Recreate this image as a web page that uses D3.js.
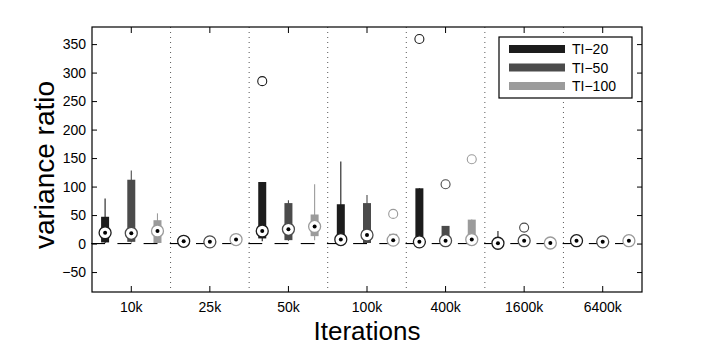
<!DOCTYPE html>
<html>
<head>
<meta charset="utf-8">
<script src="https://cdn.jsdelivr.net/npm/d3@7"></script>
<style>
body { margin: 0; background: #fff; }
svg { display: block; font-family: "Liberation Sans", Arial, sans-serif; }
</style>
</head>
<body>
<svg width="709" height="355"></svg>
<script>
// groups on the x axis
var iterations = ["10k", "25k", "50k", "100k", "400k", "1600k", "6400k"];
var seriesNames = ["TI\u221220", "TI\u221250", "TI\u2212100"];
var seriesColors = ["#1c1c1c", "#4b4b4b", "#9b9b9b"];
var yTicks = [-50, 0, 50, 100, 150, 200, 250, 300, 350];

// box stats per iteration: [low whisker, q1, median, q3, high whisker]
var ti20 = [
  [1, 2, 19, 47, 79],
  [1, 2, 4, 6, 8],
  [4, 9, 22, 108, 108],
  [0, 0, 7, 69, 144],
  [0, 1, 3, 97, 97],
  [-2, -1, 0.5, 2, 22],
  [2, 3, 5, 6, 7]
];
var ti50 = [
  [2, 3, 18, 112, 128],
  [1, 2, 3, 4, 5],
  [5, 6, 25, 71, 76],
  [1, 1, 15, 71, 85],
  [1, 1, 5, 31, 31],
  [2, 3, 5, 6, 7],
  [1, 2, 3, 4, 5]
];
var ti100 = [
  [1, 1, 22, 41, 53],
  [4, 5, 7, 9, 10],
  [6, 13, 30, 51, 104],
  [1, 1, 6, 17, 17],
  [1, 1, 7, 42, 42],
  [0, 0, 1, 2, 3],
  [2, 3, 5, 6, 7]
];
// outliers: [iteration index, value]
var out20 = [[2, 285], [4, 359]];
var out50 = [[4, 104], [5, 28]];
var out100 = [[3, 52], [4, 148]];

var svg = d3.select("svg"),
margin = {top: 27, right: 67, bottom: 63, left: 92},
width = +svg.attr("width") - margin.left - margin.right,
height = +svg.attr("height") - margin.top - margin.bottom;

var x = d3.scaleBand().domain(iterations).range([0, width]).padding(0);
var sub = d3.scalePoint().domain(seriesNames)
  .range([x.bandwidth() / 6, x.bandwidth() * 5 / 6]);
var y = d3.scaleLinear().domain([-85, 380]).range([height, 0]);

var g = svg.append("g")
  .attr("transform", "translate(" + margin.left + "," + margin.top + ")");

// build box records from the arrays
var stats = [ti20, ti50, ti100];
var outs = [out20, out50, out100];
var boxes = [], outliers = [];
seriesNames.forEach(function (s, i) {
  stats[i].forEach(function (d, j) {
    boxes.push({series: s, color: seriesColors[i], it: iterations[j],
      lo: d[0], q1: d[1], med: d[2], q3: d[3], hi: d[4]});
  });
  outs[i].forEach(function (d) {
    outliers.push({series: s, color: seriesColors[i], it: iterations[d[0]], v: d[1]});
  });
});
function cx(d) { return x(d.it) + sub(d.series); }

// dotted separators between groups
g.selectAll(".sep")
  .data(iterations.slice(1))
  .enter().append("line")
  .attr("x1", function (d) { return x(d); })
  .attr("x2", function (d) { return x(d); })
  .attr("y1", 0).attr("y2", height)
  .attr("stroke", "#444").attr("stroke-width", 0.9)
  .attr("stroke-dasharray", "1,4");

// zero reference dashes
var dash = sub.step() * 0.53;
g.selectAll(".zero")
  .data(boxes)
  .enter().append("line")
  .attr("x1", function (d) { return cx(d) - dash; })
  .attr("x2", function (d) { return cx(d); })
  .attr("y1", y(0)).attr("y2", y(0))
  .attr("stroke", "#000").attr("stroke-width", 1.1);

// whiskers
g.selectAll(".whisker")
  .data(boxes)
  .enter().append("line")
  .attr("x1", cx).attr("x2", cx)
  .attr("y1", function (d) { return y(d.lo); })
  .attr("y2", function (d) { return y(d.hi); })
  .attr("stroke", function (d) { return d.color; })
  .attr("stroke-width", 1.1);

// boxes
var bw = 8;
g.selectAll(".box")
  .data(boxes)
  .enter().append("rect")
  .attr("x", function (d) { return cx(d) - bw / 2; })
  .attr("width", bw)
  .attr("y", function (d) { return y(d.q3); })
  .attr("height", function (d) { return Math.max(1, y(d.q1) - y(d.q3)); })
  .attr("fill", function (d) { return d.color; });

// outliers
g.selectAll(".outlier")
  .data(outliers)
  .enter().append("circle")
  .attr("cx", cx)
  .attr("cy", function (d) { return y(d.v); })
  .attr("r", 4.5)
  .attr("fill", "none")
  .attr("stroke", function (d) { return d.color; })
  .attr("stroke-width", 1.1);

// medians: circle with dot
g.selectAll(".med")
  .data(boxes)
  .enter().append("circle")
  .attr("cx", cx)
  .attr("cy", function (d) { return y(d.med); })
  .attr("r", 6)
  .attr("fill", "#fff")
  .attr("stroke", function (d) { return d.color; })
  .attr("stroke-width", 1.3);
g.selectAll(".meddot")
  .data(boxes)
  .enter().append("circle")
  .attr("cx", cx)
  .attr("cy", function (d) { return y(d.med); })
  .attr("r", 2)
  .attr("fill", "#000");

// axes
var yAxis = g.append("g")
  .call(d3.axisLeft(y).tickValues(yTicks).tickSize(-5).tickPadding(6)
    .tickFormat(function (d) { return d < 0 ? "\u2212" + Math.abs(d) : d; }));
g.append("g").attr("transform", "translate(" + width + ",0)")
  .call(d3.axisRight(y).tickValues(yTicks).tickSize(-5).tickFormat(""));
var xAxis = g.append("g").attr("transform", "translate(0," + height + ")")
  .call(d3.axisBottom(x).tickSize(-6).tickPadding(10.5));
g.append("g")
  .call(d3.axisTop(x).tickSize(-6).tickFormat(""));

g.selectAll(".domain").remove();
g.selectAll(".tick line").attr("stroke", "#000");
g.selectAll(".tick text")
  .attr("fill", "#000")
  .style("font-family", "'Liberation Sans', Arial, sans-serif")
  .style("font-size", "14px");

g.append("rect")
  .attr("width", width).attr("height", height)
  .attr("fill", "none").attr("stroke", "#000").attr("stroke-width", 1.2);

// axis titles
svg.append("text")
  .attr("transform", "translate(53.5,165) rotate(-90)")
  .attr("text-anchor", "middle")
  .style("font-size", "28px")
  .text("variance ratio");
svg.append("text")
  .attr("x", margin.left + width / 2)
  .attr("y", 339.5)
  .attr("text-anchor", "middle")
  .style("font-size", "26px")
  .text("Iterations");

// legend
var legend = g.append("g").attr("transform", "translate(" + (width - 143) + ",10)");
legend.append("rect")
  .attr("width", 133).attr("height", 61)
  .attr("fill", "#fff").attr("stroke", "#000").attr("stroke-width", 1.2);
var item = legend.selectAll(".item")
  .data(seriesNames)
  .enter().append("g")
  .attr("transform", function (d, i) { return "translate(0," + (12 + i * 18.5) + ")"; });
item.append("line")
  .attr("x1", 10).attr("x2", 66)
  .attr("stroke", function (d, i) { return seriesColors[i]; })
  .attr("stroke-width", 8);
item.append("text")
  .attr("x", 73).attr("y", 5)
  .style("font-size", "14px")
  .text(function (d) { return d; });
</script>
</body>
</html>
